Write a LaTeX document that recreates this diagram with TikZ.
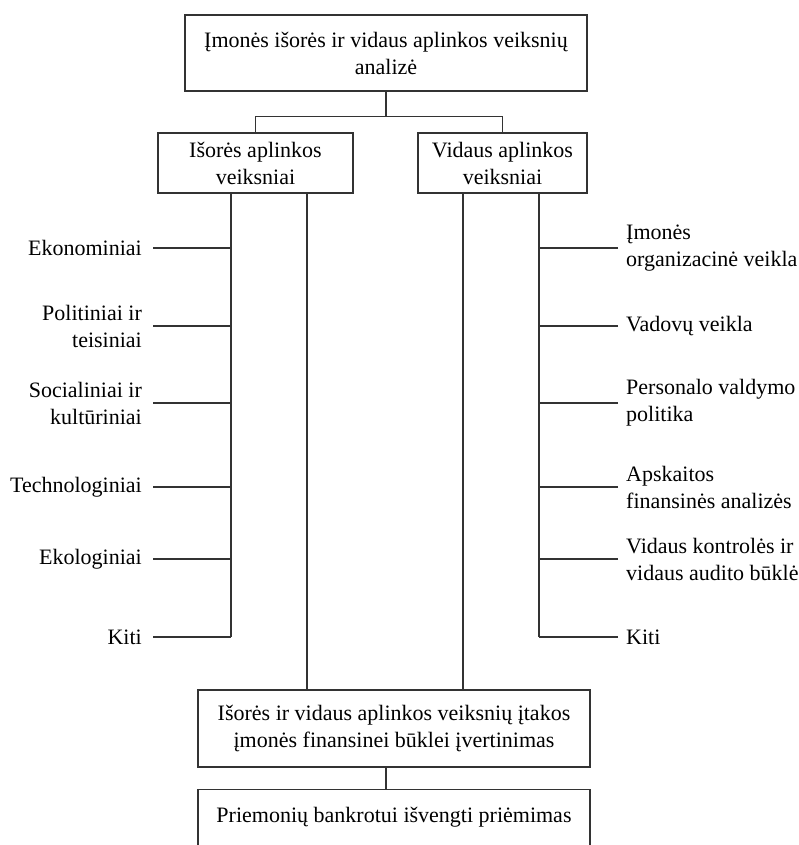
\documentclass[tikz,border=0pt]{standalone}
\usepackage{fontspec}
\setmainfont{Liberation Serif}
\usetikzlibrary{positioning}

\begin{document}
\begin{tikzpicture}[
    x=1pt, y=-1pt,
    every node/.style={font=\fontsize{22}{27}\selectfont},
    block/.style={
        rectangle,
        draw=black!80,
        line width=1.3pt,
        align=center,
        inner sep=0pt
    },
    line/.style={draw=black!80, line width=1.3pt},
    factor/.style={inner ysep=0pt, inner xsep=11pt}
]
\useasboundingbox (0,0) rectangle (798,845);

    \node[block, minimum width=402pt, minimum height=76pt] (analysis) at (386,53) {Įmonės išorės ir vidaus aplinkos veiksnių\\analizė};
    \node[block, minimum width=195pt, minimum height=60pt] (ext) at (255.5,163) {Išorės aplinkos\\veiksniai};
    \node[block, minimum width=169pt, minimum height=60pt] (int) at (502.5,163) {Vidaus aplinkos\\veiksniai};
    \node[block, minimum width=392pt, minimum height=77pt] (eval) at (394,728.5) {Išorės ir vidaus aplinkos veiksnių įtakos\\įmonės finansinei būklei įvertinimas};
    \node[block, minimum width=392pt, minimum height=56pt, below=21pt of eval] (measures) {Priemonių bankrotui išvengti priėmimas};

    % spines
    \coordinate (lout) at (231,637);
    \coordinate (lin) at (307,0);
    \coordinate (rin) at (463,0);
    \coordinate (rout) at (539,637);

    % top fork
    \draw[line] (analysis.south) -- ++(0,25) coordinate (fork);
    \draw[line] (ext.north) |- (fork) -| (int.north);

    \draw[line] (ext.south -| lout) -- (lout);
    \draw[line] (int.south -| rout) -- (rout);
    \draw[line] (ext.south -| lin) -- (eval.north -| lin);
    \draw[line] (int.south -| rin) -- (eval.north -| rin);
    \draw[line] (eval.south -| analysis.south) -- (measures.north -| analysis.south);

    % external factors
    \foreach \name/\y/\txt in {eko/248/Ekonominiai, pol/326/{Politiniai ir\\teisiniai}, soc/403/{Socialiniai ir\\kultūriniai}, tech/487/Technologiniai, ekol/559/Ekologiniai, lkiti/637/Kiti}{
        \node[factor, anchor=east, align=right] (\name) at (153,\y) {\txt};
        \draw[line] (\name.east) -- (\name.east -| lout);
    }

    % internal factors
    \foreach \name/\y/\txt in {org/248/{Įmonės\\organizacinė veikla}, vad/326/Vadovų veikla, pers/403/{Personalo valdymo\\politika}, aps/487/{Apskaitos\\finansinės analizės}, kontr/559/{Vidaus kontrolės ir\\vidaus audito būklė}, rkiti/637/Kiti}{
        \node[factor, inner xsep=8pt, anchor=west, align=left] (\name) at (618,\y) {\txt};
        \draw[line] (\name.west) -- (\name.west -| rout);
    }

\end{tikzpicture}
\end{document}
